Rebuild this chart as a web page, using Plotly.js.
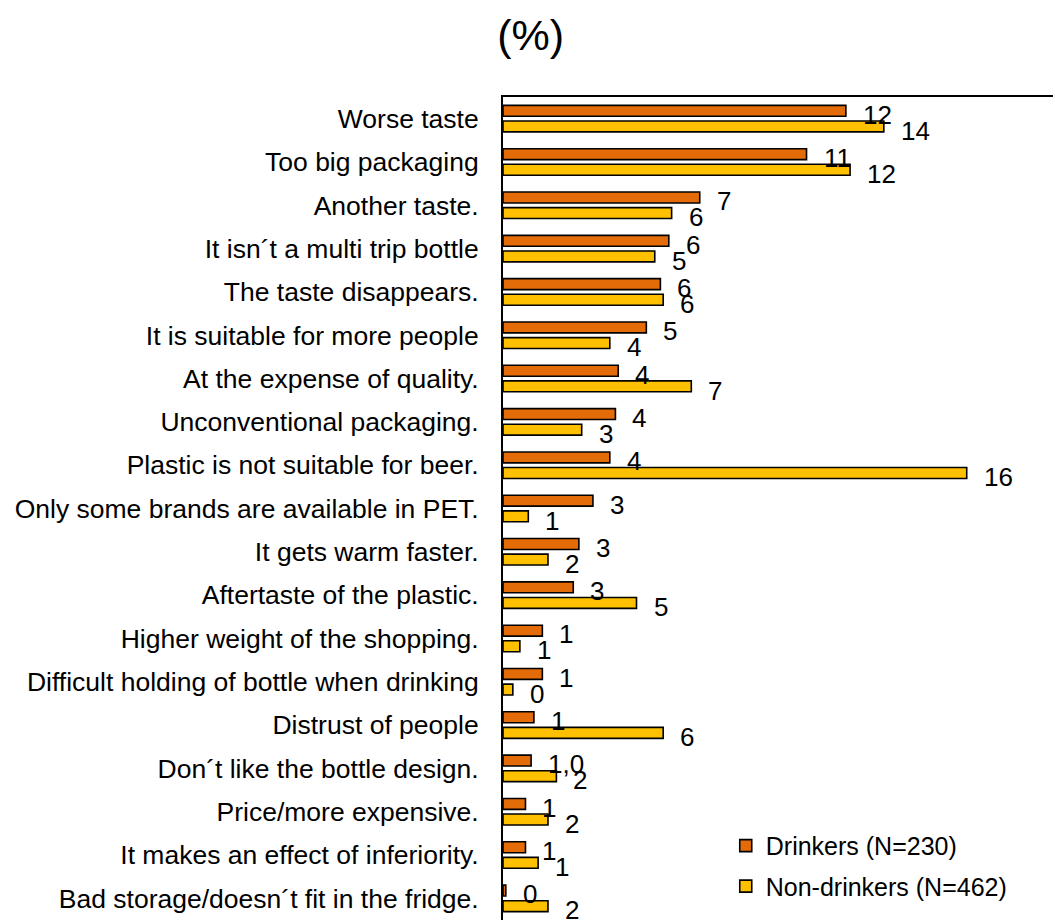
<!DOCTYPE html>
<html>
<head>
<meta charset="utf-8">
<script src="https://cdn.plot.ly/plotly-3.0.1.min.js"></script>
<style>html,body{margin:0;padding:0;background:#fff;}#chart{width:1055px;height:920px;}</style>
</head>
<body>
<div id="chart"></div>
<script>
const categories = [
  "Worse taste",
  "Too big packaging",
  "Another taste.",
  "It isn´t a multi trip bottle",
  "The taste disappears.",
  "It is suitable for more people",
  "At the expense of quality.",
  "Unconventional packaging.",
  "Plastic is not suitable for beer.",
  "Only some brands are available in PET.",
  "It gets warm faster.",
  "Aftertaste of the plastic.",
  "Higher weight of the shopping.",
  "Difficult holding of bottle when drinking",
  "Distrust of people",
  "Don´t like the bottle design.",
  "Price/more expensive.",
  "It makes an effect of inferiority.",
  "Bad storage/doesn´t fit in the fridge."
];
const drinkers = [12.2, 10.8, 7.0, 5.9, 5.6, 5.1, 4.1, 4.0, 3.8, 3.2, 2.7, 2.5, 1.4, 1.4, 1.1, 1.0, 0.8, 0.8, 0.1];
const nonDrinkers = [13.55, 12.35, 6.0, 5.4, 5.7, 3.8, 6.7, 2.8, 16.5, 0.9, 1.6, 4.75, 0.6, 0.35, 5.7, 1.9, 1.6, 1.25, 1.6];
const drinkersLabels = ["12","11","7","6","6","5","4","4","4","3","3","3","1","1","1","1,0","1","1","0"];
const nonDrinkersLabels = ["14","12","6","5","6","4","7","3","16","1","2","5","1","0","6","2","2","1","2"];
const seriesNames = ["Drinkers (N=230)", "Non-drinkers (N=462)"];

const FONT = "Liberation Sans, Arial, sans-serif";

const traces = [
  {
    type: "bar", orientation: "h", name: seriesNames[0], legendgroup: "d",
    y: categories, x: drinkers,
    marker: {color: "#E36C09", line: {color: "#000", width: 1.6}},
    hoverinfo: "none"
  },
  {
    type: "bar", orientation: "h", name: seriesNames[1], legendgroup: "n",
    y: categories, x: nonDrinkers,
    marker: {color: "#FFC000", line: {color: "#000", width: 1.6}},
    hoverinfo: "none"
  }
];

const annotations = [];
categories.forEach((c, i) => {
  annotations.push({x: drinkers[i], y: c, xref: "x", yref: "y", text: drinkersLabels[i],
    showarrow: false, xanchor: "left", yanchor: "middle", xshift: 15, yshift: 4,
    font: {family: FONT, size: 26, color: "#000"}});
  annotations.push({x: nonDrinkers[i], y: c, xref: "x", yref: "y", text: nonDrinkersLabels[i],
    showarrow: false, xanchor: "left", yanchor: "middle", xshift: 15, yshift: -12,
    font: {family: FONT, size: 26, color: "#000"}});
});

const layout = {
  width: 1055, height: 920,
  paper_bgcolor: "#fff", plot_bgcolor: "#fff",
  margin: {l: 503, r: 2, t: 97, b: 0, pad: 0},
  title: {text: "(%)", font: {family: FONT, size: 43, color: "#000"},
    x: 0.503, xanchor: "center", xref: "container", y: 0.962, yanchor: "middle", yref: "container"},
  barmode: "group", bargap: 0.28, bargroupgap: 0.3,
  showlegend: true,
  legend: {x: 0.405, xanchor: "left", y: 0.118, yanchor: "top", bgcolor: "rgba(0,0,0,0)",
    font: {family: FONT, size: 25, color: "#000"}, traceorder: "grouped", tracegroupgap: 5, itemwidth: 30},
  xaxis: {range: [0, 19.57], side: "top", showline: true, linecolor: "#000", linewidth: 2,
    showgrid: false, zeroline: false, showticklabels: false, ticks: ""},
  yaxis: {range: [18.5, -0.5], autorange: false, showline: true, linecolor: "#000", linewidth: 2,
    showgrid: false, zeroline: false, ticks: "", ticklabelstandoff: 17,
    tickfont: {family: FONT, size: 26.5, color: "#000"}},
  annotations: annotations
};

Plotly.newPlot("chart", traces, layout, {displayModeBar: false, staticPlot: true});
</script>
</body>
</html>
